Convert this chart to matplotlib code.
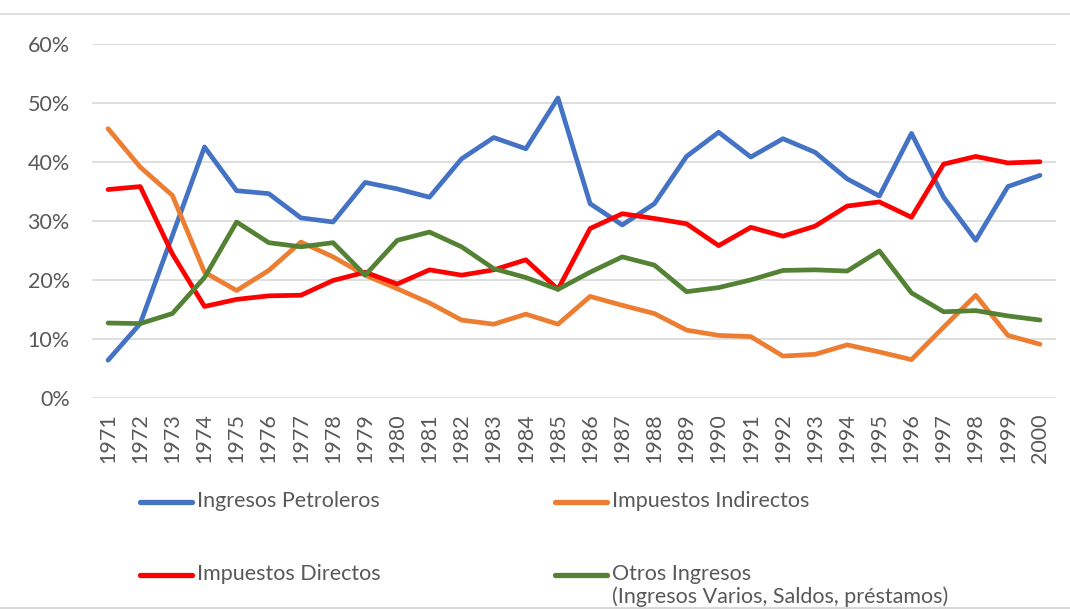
import matplotlib.pyplot as plt
from matplotlib.lines import Line2D
import numpy as np

years = [str(y) for y in range(1971, 2001)]

petroleros = [6.4, 12.6, 27.5, 42.5, 35.1, 34.6, 30.5, 29.8, 36.5, 35.4,
              34.0, 40.5, 44.1, 42.2, 50.8, 32.9, 29.3, 32.9, 40.9, 45.0,
              40.8, 43.9, 41.6, 37.1, 34.2, 44.8, 34.0, 26.7, 35.8, 37.7]
indirectos = [45.6, 39.1, 34.3, 21.3, 18.2, 21.6, 26.4, 23.9, 20.8, 18.5,
              16.1, 13.2, 12.5, 14.2, 12.5, 17.2, 15.7, 14.3, 11.5, 10.6,
              10.4, 7.1, 7.4, 9.0, 7.8, 6.5, 12.0, 17.4, 10.6, 9.1]
directos = [35.3, 35.8, 24.4, 15.5, 16.7, 17.3, 17.4, 19.9, 21.3, 19.3,
            21.7, 20.8, 21.7, 23.4, 18.4, 28.7, 31.2, 30.4, 29.5, 25.8,
            28.9, 27.4, 29.1, 32.5, 33.2, 30.6, 39.6, 40.9, 39.8, 40.0]
otros = [12.7, 12.6, 14.3, 20.4, 29.8, 26.3, 25.6, 26.3, 20.8, 26.7,
         28.1, 25.6, 21.9, 20.4, 18.4, 21.3, 23.9, 22.5, 18.0, 18.7,
         20.0, 21.6, 21.7, 21.5, 24.9, 17.8, 14.6, 14.8, 13.9, 13.2]

labels = ['Ingresos Petroleros', 'Impuestos Indirectos', 'Impuestos Directos',
          'Otros Ingresos\n(Ingresos Varios, Saldos, préstamos)']
colors = ['#4472c4', '#ed7d31', '#ff0000', '#548235']
series = [petroleros, indirectos, directos, otros]

plt.rcParams['font.family'] = ['Lato', 'DejaVu Sans']
txt = '#595959'
fs = 15.5

fig = plt.figure(figsize=(10.7, 6.1), dpi=100)
ax = fig.add_axes([0.086, 0.3475, 0.901, 0.581])

x = np.arange(len(years))
for vals, c in zip(series, colors):
    ax.plot(x, np.array(vals) / 100, color=c, lw=3.4, solid_capstyle='round', zorder=3)

ax.set_xlim(-0.5, len(years) - 0.5)
ax.set_ylim(0, 0.6)
ax.set_yticks(np.arange(0, 0.61, 0.1))
ax.set_yticklabels(['%d%%' % v for v in range(0, 61, 10)])
ax.set_xticks(x)
ax.set_xticklabels(years, rotation=90)
ax.tick_params(length=0, labelsize=fs, labelcolor=txt)
ax.tick_params(axis='y', pad=16)
ax.tick_params(axis='x', pad=11)
ax.grid(axis='y', color='#d9d9d9', lw=1.2)
ax.set_axisbelow(True)
for s in ax.spines.values():
    s.set_visible(False)

# legend, built by hand so the handle sits on the first text line
pos = [(140, 502), (555, 502), (140, 575), (555, 575)]
for (px, py), lab, c in zip(pos, labels, colors):
    fx, fy = px / 1070, 1 - py / 610
    fig.add_artist(Line2D([fx, fx + 52 / 1070], [fy, fy], color=c, lw=3.8,
                          solid_capstyle='round', transform=fig.transFigure))
    fig.text(fx + 57 / 1070, fy + 11 / 610, lab, color=txt, fontsize=fs,
             va='top', ha='left', linespacing=1.15)

# frame lines of the chart area
fig.add_artist(Line2D([0, 1], [1 - 14 / 610] * 2, color='#d9d9d9', lw=1.2,
                      transform=fig.transFigure))
fig.add_artist(Line2D([0, 1], [1 - 608 / 610] * 2, color='#d9d9d9', lw=1.5,
                      transform=fig.transFigure, zorder=5))

plt.savefig('out.png')
